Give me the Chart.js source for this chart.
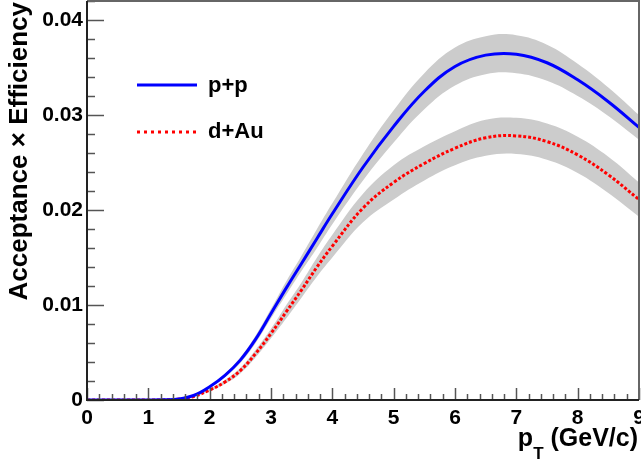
<!DOCTYPE html>
<html>
<head>
<meta charset="utf-8">
<script src="https://cdn.jsdelivr.net/npm/chart.js@4.4.0/dist/chart.umd.min.js"></script>
<style>
  html, body { margin: 0; padding: 0; background: #fff; }
  #wrap { width: 641px; height: 461px; }
</style>
</head>
<body>
<div id="wrap"><canvas id="chart" width="641" height="461"></canvas></div>
<script>
// pT points (GeV/c)
const ptValues = [0, 0.5, 1, 1.25, 1.5, 1.75, 2, 2.25, 2.5, 2.75, 3, 3.25, 3.5, 3.75, 4, 4.5, 5, 5.5, 6, 6.5, 7, 7.5, 8, 8.5, 9];

// acceptance x efficiency
const ppValues = [0, 0, 0, 0.00002, 0.0001, 0.0005, 0.0014, 0.0026, 0.0042, 0.0064, 0.0091, 0.0118, 0.0144, 0.0170, 0.0196, 0.0245, 0.0288, 0.0325, 0.0351, 0.0363, 0.0364, 0.0355, 0.0337, 0.0314, 0.0287];
const ppErrors = [0, 0, 0, 0, 0.00001, 0.00003, 0.0001, 0.0002, 0.0003, 0.0004, 0.0005, 0.0007, 0.0008, 0.0010, 0.0011, 0.0014, 0.0017, 0.0019, 0.0020, 0.0020, 0.0020, 0.0019, 0.0017, 0.0015, 0.0013];

const dauValues = [0, 0, 0, 0.00001, 0.0001, 0.0004, 0.00105, 0.0019, 0.0031, 0.0049, 0.0070, 0.0093, 0.0116, 0.0140, 0.0162, 0.0202, 0.0229, 0.0249, 0.0265, 0.0276, 0.0278, 0.0272, 0.0258, 0.0237, 0.0211];
const dauErrors = [0, 0, 0, 0, 0.00001, 0.00003, 0.0001, 0.0002, 0.0003, 0.0004, 0.0005, 0.0007, 0.0008, 0.0010, 0.0012, 0.0015, 0.0018, 0.0018, 0.0018, 0.0019, 0.0019, 0.0019, 0.0019, 0.0019, 0.0018];

const seriesNames = ['p+p', 'd+Au'];
const xTitle = ['p', 'T', ' (GeV/c)'];
const yTitle = 'Acceptance \u00d7 Efficiency';

const FONT = '"Liberation Sans", Arial, Helvetica, sans-serif';

function pts(vals) {
    return ptValues.map((x, i) => ({ x: x, y: vals[i] }));
}
function band(vals, errs, sign) {
    return ptValues.map((x, i) => ({ x: x, y: Math.max(0, vals[i] + sign * errs[i]) }));
}

// frame, inward ticks, legend and axis titles
const rootStyle = {
    id: 'rootStyle',
    afterDraw(chart) {
        const ctx = chart.ctx;
        const a = chart.chartArea;
        const xs = chart.scales.x;
        const ys = chart.scales.y;
        ctx.save();

        // ticks
        ctx.strokeStyle = '#555';
        ctx.lineWidth = 1.5;
        for (let k = 0; k <= 45; k++) {
            const v = k * 0.2;
            const px = Math.round(xs.getPixelForValue(v)) + 0.5;
            const len = (k % 5 === 0) ? 12 : 6;
            ctx.beginPath();
            ctx.moveTo(px, a.bottom);
            ctx.lineTo(px, a.bottom - len);
            ctx.stroke();
        }
        for (let k = 0; k <= 21; k++) {
            const v = k * 0.002;
            const py = Math.round(ys.getPixelForValue(v)) + 0.5;
            const len = (k % 5 === 0) ? 17 : 8;
            ctx.beginPath();
            ctx.moveTo(a.left, py);
            ctx.lineTo(a.left + len, py);
            ctx.stroke();
        }

        // frame
        ctx.lineWidth = 2;
        ctx.strokeStyle = '#666';
        ctx.beginPath();
        ctx.moveTo(a.left, a.top);
        ctx.lineTo(a.right, a.top);
        ctx.lineTo(a.right, a.bottom);
        ctx.stroke();
        ctx.strokeStyle = '#222';
        ctx.beginPath();
        ctx.moveTo(a.left, a.top);
        ctx.lineTo(a.left, a.bottom);
        ctx.lineTo(a.right, a.bottom);
        ctx.stroke();

        // legend
        ctx.lineWidth = 3;
        ctx.strokeStyle = '#0000ff';
        ctx.beginPath();
        ctx.moveTo(137, 85);
        ctx.lineTo(197, 85);
        ctx.stroke();
        ctx.strokeStyle = '#ff0000';
        ctx.setLineDash([3, 4]);
        ctx.beginPath();
        ctx.moveTo(137, 132);
        ctx.lineTo(197, 132);
        ctx.stroke();
        ctx.setLineDash([]);

        ctx.fillStyle = '#000';
        ctx.font = 'bold 22px ' + FONT;
        ctx.textAlign = 'left';
        ctx.textBaseline = 'middle';
        ctx.fillText(seriesNames[0], 208, 86);
        ctx.fillText(seriesNames[1], 208, 132);

        // y title
        ctx.save();
        ctx.translate(27, 2);
        ctx.rotate(-Math.PI / 2);
        ctx.font = 'bold 26px ' + FONT;
        ctx.textAlign = 'right';
        ctx.textBaseline = 'alphabetic';
        ctx.fillText(yTitle, 0, 0);
        ctx.restore();

        // x title
        const big = 'bold 25px ' + FONT;
        const small = 'bold 17px ' + FONT;
        ctx.textBaseline = 'alphabetic';
        ctx.font = big;
        const w0 = ctx.measureText(xTitle[0]).width;
        const w2 = ctx.measureText(xTitle[2]).width;
        ctx.font = small;
        const w1 = ctx.measureText(xTitle[1]).width;
        let x0 = 638 - (w0 + w1 + w2);
        ctx.font = big;
        ctx.fillText(xTitle[0], x0, 446);
        ctx.font = small;
        ctx.fillText(xTitle[1], x0 + w0, 459);
        ctx.font = big;
        ctx.fillText(xTitle[2], x0 + w0 + w1, 446);

        ctx.restore();
    }
};

const lineCommon = { pointRadius: 0, tension: 0.4 };

const ctx = document.getElementById('chart');
new Chart(ctx, {
    type: 'line',
    data: {
        datasets: [
            Object.assign({
                label: seriesNames[0],
                data: pts(ppValues),
                borderColor: '#0000ff',
                borderWidth: 3,
                fill: false,
                order: 0
            }, lineCommon),
            Object.assign({
                label: seriesNames[1],
                data: pts(dauValues),
                borderColor: '#ff0000',
                borderWidth: 3,
                borderDash: [3, 2],
                fill: false,
                order: 1
            }, lineCommon),
            Object.assign({
                label: 'pp up',
                data: band(ppValues, ppErrors, 1),
                borderWidth: 0,
                borderColor: 'rgba(0,0,0,0)',
                backgroundColor: '#cccccc',
                fill: '+1',
                order: 5
            }, lineCommon),
            Object.assign({
                label: 'pp down',
                data: band(ppValues, ppErrors, -1),
                borderWidth: 0,
                borderColor: 'rgba(0,0,0,0)',
                fill: false,
                order: 5
            }, lineCommon),
            Object.assign({
                label: 'dAu up',
                data: band(dauValues, dauErrors, 1),
                borderWidth: 0,
                borderColor: 'rgba(0,0,0,0)',
                backgroundColor: '#cccccc',
                fill: '+1',
                order: 5
            }, lineCommon),
            Object.assign({
                label: 'dAu down',
                data: band(dauValues, dauErrors, -1),
                borderWidth: 0,
                borderColor: 'rgba(0,0,0,0)',
                fill: false,
                order: 5
            }, lineCommon)
        ]
    },
    options: {
        responsive: false,
        animation: false,
        devicePixelRatio: 1,
        layout: { padding: { left: 0, right: 2, top: 1, bottom: 0 } },
        plugins: {
            legend: { display: false },
            tooltip: { enabled: false }
        },
        scales: {
            x: {
                type: 'linear',
                min: 0,
                max: 9,
                grid: { display: false, drawTicks: false },
                border: { display: false },
                ticks: {
                    stepSize: 1,
                    padding: 6,
                    color: '#000',
                    maxRotation: 0,
                    autoSkip: false,
                    font: { family: FONT, size: 21, weight: 'bold' }
                },
                afterFit(scale) {
                    scale.height = 61;
                    scale.paddingLeft = 0;
                    scale.paddingRight = 0;
                }
            },
            y: {
                min: 0,
                max: 0.042,
                grid: { display: false, drawTicks: false },
                border: { display: false },
                ticks: {
                    stepSize: 0.01,
                    includeBounds: false,
                    padding: 4,
                    color: '#000',
                    autoSkip: false,
                    font: { family: FONT, size: 21, weight: 'bold' },
                    callback: function (v) {
                        const k = Math.round(v * 100);
                        if (Math.abs(v * 100 - k) > 1e-6) return '';
                        return k === 0 ? '0' : v.toFixed(2);
                    }
                },
                afterFit(scale) {
                    scale.width = 87;
                    scale.paddingTop = 0;
                    scale.paddingBottom = 0;
                }
            }
        }
    },
    plugins: [rootStyle]
});
</script>
</body>
</html>
